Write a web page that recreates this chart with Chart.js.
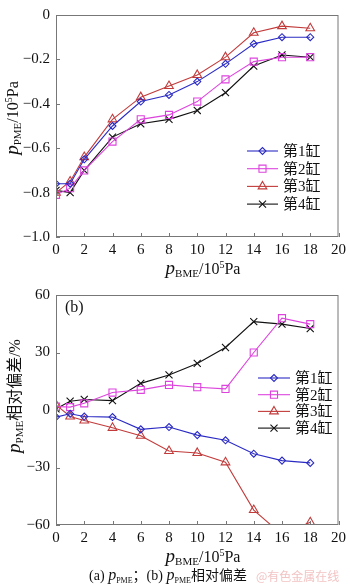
<!DOCTYPE html>
<html>
<head>
<meta charset="utf-8">
<script src="https://cdn.jsdelivr.net/npm/chart.js@4.4.1/dist/chart.umd.min.js"></script>
<style>
  body { margin: 0; background: #fff; }
  #wrap { position: relative; width: 350px; height: 588px; overflow: hidden; font-family: "Liberation Serif", "Noto Sans CJK SC", serif; color: #111; }
  .box { position: absolute; left: 0; width: 350px; }
  .lbl { position: absolute; white-space: nowrap; font-size: 16px; line-height: 1; }
  .lbl i { font-size: 19px; }
  .lbl sub { font-size: 11px; vertical-align: -3px; }
  .lbl sup { font-size: 10px; vertical-align: 6px; }
  .cjk { font-family: "Noto Sans CJK SC", sans-serif; }
  .rot { transform: translate(-50%, -50%) rotate(-90deg); }
  .hc { transform: translate(-50%, -50%); }
</style>
</head>
<body>
<div id="wrap">
  <div class="box" style="top:0;height:262px"><canvas id="chartA"></canvas></div>
  <div class="box" style="top:280px;height:270px"><canvas id="chartB"></canvas></div>

  <div class="lbl rot" style="left:12px;top:118px"><i>p</i><sub>PME</sub>/10<sup>5</sup>Pa</div>
  <div class="lbl hc" style="left:203px;top:268px"><i>p</i><sub>BME</sub>/10<sup>5</sup>Pa</div>

  <div class="lbl" style="left:65px;top:299px;font-size:16px">(b)</div>
  <div class="lbl rot" style="left:14px;top:396px"><i>p</i><sub>PME</sub><span class="cjk" style="font-size:16px">相对偏差</span>/%</div>
  <div class="lbl hc" style="left:203px;top:556px"><i>p</i><sub>BME</sub>/10<sup>5</sup>Pa</div>

  <div class="lbl hc" style="left:168px;top:576px;font-size:14px">(a) <i style="font-size:16px">p</i><sub style="font-size:8px">PME</sub>；(b) <i style="font-size:16px">p</i><sub style="font-size:8px">PME</sub><span class="cjk" style="font-size:14px">相对偏差</span></div>
  <div class="lbl cjk" style="left:256px;top:570px;font-size:12px;color:#f2c4c4">@有色金属在线</div>
</div>

<script>
// data
const pBME = [0, 1, 2, 4, 6, 8, 10, 12, 14, 16, 18];
const cylNames = ['第1缸', '第2缸', '第3缸', '第4缸'];

// (a) PME, 10^5 Pa
const pme1 = [-0.76, -0.76, -0.65, -0.50, -0.39, -0.36, -0.30, -0.22, -0.13, -0.10, -0.10];
const pme2 = [-0.81, -0.78, -0.70, -0.57, -0.47, -0.45, -0.39, -0.29, -0.21, -0.19, -0.19];
const pme3 = [-0.80, -0.75, -0.64, -0.47, -0.37, -0.32, -0.27, -0.19, -0.08, -0.05, -0.06];
const pme4 = [-0.79, -0.80, -0.70, -0.55, -0.49, -0.47, -0.43, -0.35, -0.23, -0.18, -0.19];

// (b) relative deviation, %
const dev1 = [-3.7, -2.0, -3.4, -3.7, -10.1, -8.9, -13.1, -15.8, -22.8, -26.4, -27.6];
const dev2 = [1.8, 1.5, 3.5, 9.1, 10.5, 13.1, 11.9, 11.0, 30.0, 47.9, 44.8];
const dev3 = [2.7, -3.4, -5.5, -9.3, -13.4, -21.4, -22.4, -27.3, -52.2, -65.0, -58.6];
const dev4 = [0.6, 4.6, 5.5, 4.9, 13.9, 18.3, 24.3, 32.6, 46.1, 44.8, 42.5];

const xTicks = [0, 2, 4, 6, 8, 10, 12, 14, 16, 18, 20];
const yTicksA = [0, -0.2, -0.4, -0.6, -0.8, -1.0];
const yTicksB = [60, 30, 0, -30, -60];

// series look
const styles = [
    { color: '#2b2bc4', pointStyle: 'rectRot', radius: 3.5 },
    { color: '#dd44dd', pointStyle: 'rect', radius: 5 },
    { color: '#c23b3b', pointStyle: 'triangle', radius: 5 },
    { color: '#111111', pointStyle: 'crossRot', radius: 5 }
];

const tickFont = { family: 'Liberation Serif', size: 15 };

function toPoints(ys) {
    return pBME.map((x, i) => ({ x: x, y: ys[i] }));
}

function makeSets(series) {
    return series.map((ys, i) => ({
        label: cylNames[i],
        data: toPoints(ys),
        borderColor: styles[i].color,
        backgroundColor: '#ffffff',
        pointBorderColor: styles[i].color,
        pointBackgroundColor: 'rgba(255,255,255,0)',
        pointStyle: styles[i].pointStyle,
        pointRadius: styles[i].radius,
        pointBorderWidth: 1.1,
        borderWidth: 1.1,
        tension: 0
    }));
}

function minusFmt(v, dec) {
    if (v === 0) return '0';
    const s = dec ? Math.abs(v).toFixed(dec) : String(Math.abs(v));
    return (v < 0 ? '\u2212' : '') + s;
}

// frame, inward ticks and the legend box drawn on the canvas
const framePlugin = {
    id: 'frame',
    afterDraw(chart, args, opts) {
        const { ctx, chartArea: a, scales } = chart;
        ctx.save();
        ctx.strokeStyle = '#777';
        ctx.lineWidth = 1;
        ctx.strokeRect(a.left + 0.5, a.top + 0.5, a.right - a.left - 1, a.bottom - a.top - 1);
        ctx.beginPath();
        scales.x.ticks.forEach(t => {
            const px = Math.round(scales.x.getPixelForValue(t.value)) + 0.5;
            ctx.moveTo(px, a.bottom);
            ctx.lineTo(px, a.bottom - 4);
        });
        scales.y.ticks.forEach(t => {
            const py = Math.round(scales.y.getPixelForValue(t.value)) + 0.5;
            ctx.moveTo(a.left, py);
            ctx.lineTo(a.left + 4, py);
        });
        ctx.stroke();

        // legend
        ctx.font = '15px "Liberation Serif", "Noto Sans CJK SC"';
        ctx.textBaseline = 'middle';
        chart.data.datasets.forEach((ds, i) => {
            const y = opts.y + i * opts.dy;
            ctx.strokeStyle = ds.borderColor;
            ctx.lineWidth = 1.1;
            ctx.beginPath();
            ctx.moveTo(opts.x, y);
            ctx.lineTo(opts.x + opts.len, y);
            ctx.stroke();
            ctx.fillStyle = 'rgba(255,255,255,0)';
            Chart.helpers.drawPoint(ctx, {
                pointStyle: ds.pointStyle, radius: ds.pointRadius, rotation: 0, borderWidth: 1.1
            }, opts.x + opts.len / 2, y);
            ctx.fillStyle = '#111';
            ctx.fillText(ds.label, opts.x + opts.len + 5, y + 1);
        });
        ctx.restore();
    }
};

function makeChart(id, series, yMin, yMax, yTicks, dec, padTop, legend) {
    return new Chart(document.getElementById(id), {
        type: 'line',
        data: { datasets: makeSets(series) },
        options: {
            responsive: true,
            maintainAspectRatio: false,
            animation: false,
            layout: { padding: { top: padTop, right: 9, left: 0, bottom: 0 } },
            scales: {
                x: {
                    type: 'linear', min: 0, max: 20,
                    afterBuildTicks: s => { s.ticks = xTicks.map(v => ({ value: v })); },
                    afterFit: s => { s.height = 25; },
                    grid: { display: false, drawTicks: false },
                    border: { display: false },
                    ticks: { font: tickFont, color: '#111', padding: 4, maxRotation: 0, autoSkip: false }
                },
                y: {
                    min: yMin, max: yMax,
                    afterBuildTicks: s => { s.ticks = yTicks.map(v => ({ value: v })); },
                    afterFit: s => { s.width = 56; },
                    grid: { display: false, drawTicks: false },
                    border: { display: false },
                    ticks: { font: tickFont, color: '#111', padding: 6, autoSkip: false,
                        callback: v => minusFmt(v, dec) }
                }
            },
            plugins: {
                legend: { display: false },
                tooltip: { enabled: false },
                frame: legend
            }
        },
        plugins: [framePlugin]
    });
}

const chartA = makeChart('chartA', [pme1, pme2, pme3, pme4], -1.0, 0, yTicksA, 1, 5,
    { x: 247, y: 151, dy: 17.7, len: 31 });
const chartB = makeChart('chartB', [dev1, dev2, dev3, dev4], -60, 60, yTicksB, 0, 14,
    { x: 258, y: 98, dy: 16.7, len: 32 });
</script>
</body>
</html>
